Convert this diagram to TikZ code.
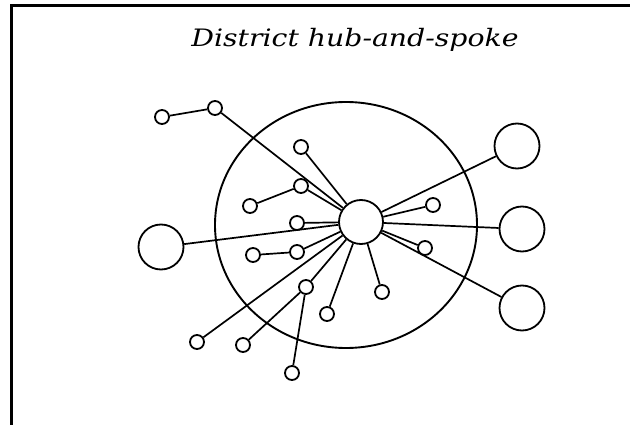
\documentclass[tikz,border=0pt]{standalone}
\usepackage{fontspec}
\newfontfamily\titlefont{DejaVu Serif}
\usetikzlibrary{calc}

\tikzset{
  leaf/.style={draw,circle,line width=1.8pt,inner sep=0pt,minimum size=14pt},
  town/.style={draw,circle,line width=1.8pt,inner sep=0pt,minimum size=45pt},
  spoke/.style={line width=1.7pt}
}

\begin{document}
\begin{tikzpicture}[x=1pt,y=-1pt]
\useasboundingbox (0,0) rectangle (630,425);
% frame
\draw[line width=2.5pt] (11.5,425) -- (11.5,5.5) -- (630,5.5);
\node[transform shape,xscale=1.18] (title) at (355,40) {\titlefont\itshape\fontsize{24}{28}\selectfont District hub-and-spoke};
% district
\draw[line width=1.9pt] (346,225) ellipse [x radius=131pt, y radius=123pt];
\node[town,minimum size=44pt] (hub) at (361,222) {};
\node[town] (west) at (161,247) {};
\node[town] (ne) at (517,146) {};
\node[town] (east) at (522,229) {};
\node[town] (se) at (522,308) {};
% small places
\node[leaf] (a) at (162,117) {};
\node[leaf] (b) at (215,108) {};
\node[leaf] (c) at (301,147) {};
\node[leaf] (d) at (301,186) {};
\node[leaf] (e) at (250,206) {};
\node[leaf] (f) at (297,223) {};
\node[leaf] (g) at (297,252) {};
\node[leaf] (h) at (253,255) {};
\node[leaf] (i) at (306,287) {};
\node[leaf] (j) at (327,314) {};
\node[leaf] (k) at (197,342) {};
\node[leaf] (l) at (243,345) {};
\node[leaf] (m) at (292,373) {};
\node[leaf] (n) at (433,205) {};
\node[leaf] (o) at (425,248) {};
\node[leaf] (p) at (382,292) {};
% spokes
\draw[spoke] (a) -- (b);
\draw[spoke] (b) -- (hub);
\draw[spoke] (c) -- (hub);
\draw[spoke] (e) -- (d);
\draw[spoke] (d) -- (hub);
\draw[spoke] (f) -- (hub);
\draw[spoke] (west) -- (hub);
\draw[spoke] (h) -- (g);
\draw[spoke] (g) -- (hub);
\draw[spoke] (k) -- (hub);
\draw[spoke] (l) -- (i);
\draw[spoke] (m) -- (i);
\draw[spoke] (i) -- (hub);
\draw[spoke] (j) -- (hub);
\draw[spoke] (p) -- (hub);
\draw[spoke] (n) -- (hub);
\draw[spoke] (o) -- (hub);
\draw[spoke] (ne) -- (hub);
\draw[spoke] (east) -- (hub);
\draw[spoke] (se) -- (hub);
\end{tikzpicture}
\end{document}
